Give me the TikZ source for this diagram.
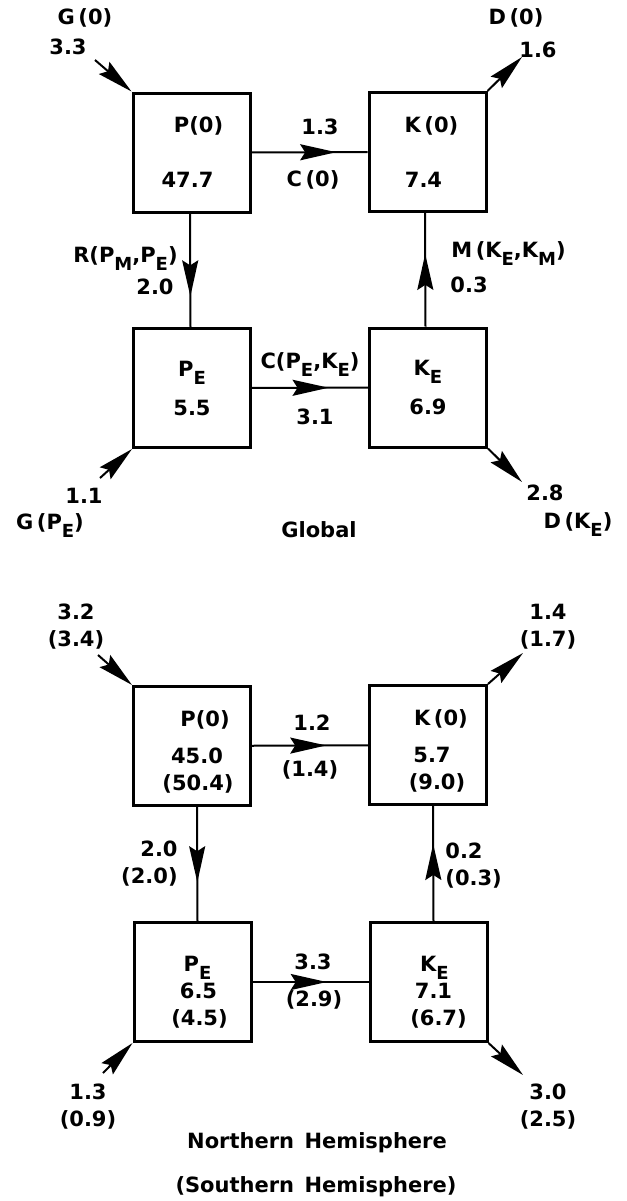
\documentclass[tikz,border=0pt]{standalone}
\usepackage{fontspec}
\setmainfont{DejaVu Sans}
\usepackage{tikz}
\usetikzlibrary{arrows.meta,decorations.markings}
\tikzset{every node/.style={font=\bfseries\fontsize{10.5}{13.5}\selectfont}}
\newcommand{\idx}[1]{\raisebox{-4pt}{\fontsize{9}{9}\selectfont #1}}

\begin{document}
\begin{tikzpicture}[
  x=0.5pt, y=-0.5pt,
  box/.style={
    draw,
    line width=1.5pt,
    minimum width=58.5pt,
    minimum height=59.5pt,
    align=center,
    inner sep=0pt
  },
  flow/.style={line width=1pt, postaction={decorate},
    decoration={markings,
      mark=at position #1 with {\arrow{Stealth[length=18pt,width=8pt,inset=2.5pt]}}}},
  flow/.default=0.68,
  side/.style={line width=1pt, -{Stealth[length=18pt,width=8pt,inset=2.5pt]}},
  lbl/.style={inner sep=0pt, align=center}
]

\useasboundingbox (0,0) rectangle (627,1201);

\node[box] (P0) at (191.5,152.5) {\hspace*{7pt}P(0)\\[14pt]47.7\hspace*{4pt}};
\node[box] (K0) at (427.5,152) {\hspace*{4pt}K\,(0)\\[14pt]7.4\hspace*{4pt}};
\node[box] (PE) at (192,388) {P\idx{E}\\[6pt]5.5};
\node[box] (KE) at (428,387.5) {K\idx{E}\\[6pt]6.9};

\draw[flow=0.73] (P0) -- (K0);
\draw[flow=0.73] ([xshift=-0.75pt]P0.south) -- ([xshift=-0.75pt]PE.north);
\draw[flow=0.64] ([xshift=-1.25pt]KE.north) -- ([xshift=-1.25pt]K0.south);
\draw[flow=0.66] (PE) -- (KE);

\coordinate (g0) at (95,60);
\coordinate (d0) at (522,57);
\coordinate (gE) at (100,478);
\coordinate (dE) at (522,482);
\draw[side] (g0) -- (P0.north west);
\draw[side] (K0.north east) -- (d0);
\draw[side] (gE) -- (PE.south west);
\draw[side] (KE.south east) -- (dE);

\node[lbl] (g0t) at (85,18) {G\,(0)};
\node[lbl] (g0v) at (68,47) {3.3};
\node[lbl] (d0t) at (516,18) {D\,(0)};
\node[lbl] (d0v) at (538,50) {1.6};
\node[lbl] (c0v) at (320,127) {1.3};
\node[lbl] (c0t) at (313,180) {C\,(0)};
\node[lbl, anchor=east] (rt) at (178,259) {R(P\idx{M},P\idx{E})};
\node[lbl, anchor=east] (rv) at (174,287) {2.0};
\node[lbl, anchor=west] (mt) at (451,254) {M\,(K\idx{E},K\idx{M})};
\node[lbl, anchor=west] (mv) at (450,285) {0.3};
\node[lbl] (cet) at (310,365) {C(P\idx{E},K\idx{E})};
\node[lbl] (cev) at (315,417) {3.1};
\node[lbl] (gEv) at (84,496) {1.1};
\node[lbl] (gEt) at (50,526) {G\,(P\idx{E})};
\node[lbl] (dEv) at (545,493) {2.8};
\node[lbl] (dEt) at (578,525) {D\,(K\idx{E})};
\node[lbl] (glob) at (319,530) {Global};

\node[box] (P1) at (192,746) {\rule{0pt}{14pt}\hspace*{13pt}P(0)\\[5pt]\hspace*{5pt}45.0\\\hspace*{6pt}(50.4)};
\node[box] (K1) at (428,745) {\rule{0pt}{14pt}\hspace*{13pt}K\,(0)\\[5pt]\hspace*{4pt}5.7\\\hspace*{9pt}(9.0)};
\node[box] (PE1) at (192.5,982) {\rule{0pt}{18pt}\hspace*{5pt}P\idx{E}\\\hspace*{6pt}6.5\\\hspace*{7pt}(4.5)};
\node[box] (KE1) at (428.5,982) {\rule{0pt}{18pt}\hspace*{6pt}K\idx{E}\\\hspace*{5pt}7.1\\\hspace*{10pt}(6.7)};

\draw[flow=0.64] (P1) -- (K1);
\draw[flow=0.66] ([xshift=2.5pt]P1.south) -- ([xshift=2.5pt]PE1.north);
\draw[flow=0.67] ([xshift=2.5pt]KE1.north) -- ([xshift=2.5pt]K1.south);
\draw[flow=0.64] (PE1) -- (KE1);

\coordinate (g1) at (98,655);
\coordinate (d1) at (523,653);
\coordinate (gE1) at (103,1073);
\coordinate (dE1) at (523,1075);
\draw[side] (g1) -- (P1.north west);
\draw[side] (K1.north east) -- (d1);
\draw[side] (gE1) -- (PE1.south west);
\draw[side] (KE1.south east) -- (dE1);

\node[lbl] (g1v) at (76,626.5) {3.2\\(3.4)};
\node[lbl] (d1v) at (548,626.5) {1.4\\(1.7)};
\node[lbl] (c1n) at (312,723) {1.2};
\node[lbl] (c1s) at (310,770) {(1.4)};
\node[lbl, anchor=east, align=right] (r1v) at (178,864) {2.0\\(2.0)};
\node[lbl, anchor=west, align=left] (m1v) at (445,866) {0.2\\(0.3)};
\node[lbl] (cE1n) at (313,962) {3.3};
\node[lbl] (cE1s) at (314,1000) {(2.9)};
\node[lbl] (gE1v) at (88,1106.5) {1.3\\(0.9)};
\node[lbl] (dE1v) at (548,1106.5) {3.0\\(2.5)};
\node[lbl] (north) at (317,1143) {Northern\hspace{0.5em}Hemisphere};
\node[lbl] (south) at (316,1187) {(Southern\hspace{0.5em}Hemisphere)};

\end{tikzpicture}
\end{document}
